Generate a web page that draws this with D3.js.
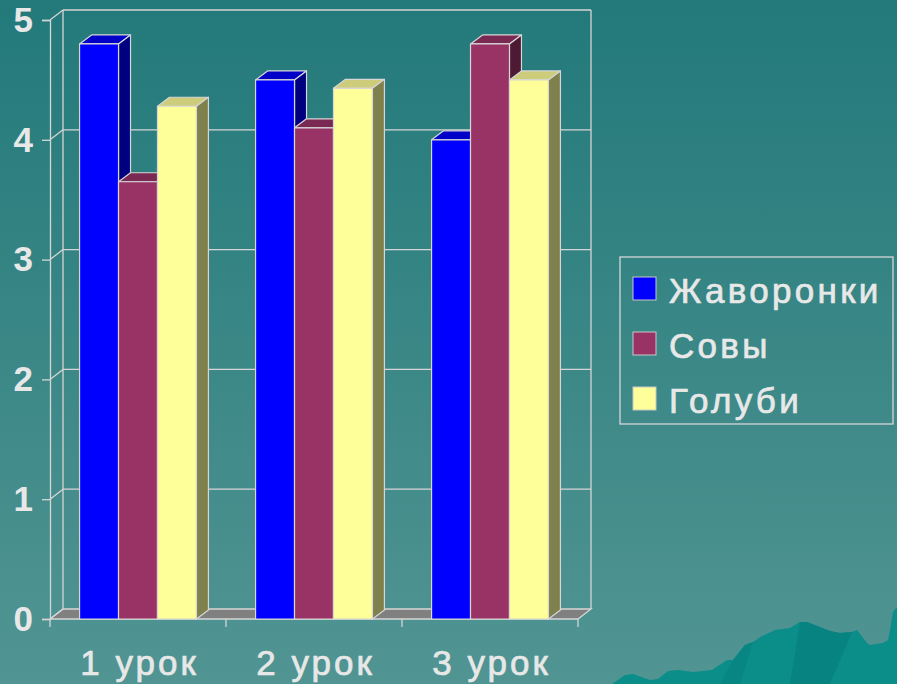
<!DOCTYPE html>
<html>
<head>
<meta charset="utf-8">
<script src="https://cdn.jsdelivr.net/npm/d3@7"></script>
<style>
  html, body { margin: 0; padding: 0; overflow: hidden; }
  svg { display: block; }
  text { font-family: "Liberation Sans", Arial, sans-serif; fill: #e8e8e8; }
</style>
</head>
<body>
<div id="chart"></div>
<script>
// chart data
const lessons = ["1 урок", "2 урок", "3 урок"];
const seriesNames = ["Жаворонки", "Совы", "Голуби"];
const larks = [4.8, 4.5, 4.0];
const owls = [3.65, 4.1, 4.8];
const pigeons = [4.28, 4.43, 4.5];
const yTicks = [0, 1, 2, 3, 4, 5];

// face colours: front, top, side
const palette = [
    {front: "#0000ff", top: "#0000c8", side: "#000080"},
    {front: "#993366", top: "#7a2952", side: "#4d1a33"},
    {front: "#ffff99", top: "#cccc7a", side: "#80804d"}
];

const W = 897, H = 684;
const depthX = 13, depthY = -10;     // wall / floor depth
const barDX = 12, barDY = -9;        // column depth

let svg = d3.select("#chart")
    .append("svg")
    .attr("width", W)
    .attr("height", H);

let defs = svg.append("defs");
let grad = defs.append("linearGradient")
    .attr("id", "bg")
    .attr("x1", 0).attr("y1", 0).attr("x2", 0).attr("y2", 1);
grad.append("stop").attr("offset", "0%").attr("stop-color", "#23797a");
grad.append("stop").attr("offset", "100%").attr("stop-color", "#519593");

svg.append("rect")
    .attr("width", W).attr("height", H)
    .attr("fill", "url(#bg)");

// mountain decoration bottom right
svg.append("polygon")
    .attr("points", "612,684 625,675 633,674 650,680 658,679 668,671 678,670 693,672 712,670 727,660 733,660 745,645 753,642 762,636 775,630 790,628 800,622 807,622 830,631 840,633 852,632 857,630 867,643 870,645 883,643 888,640 890,630 893,612 897,607 897,684")
    .attr("fill", "#0b8d8a");
svg.append("polygon")
    .attr("points", "733,660 745,645 753,642 740,684 720,684")
    .attr("fill", "#088683");
svg.append("polygon")
    .attr("points", "800,622 807,622 830,631 840,633 852,632 830,684 790,684")
    .attr("fill", "#078482");

let x0 = d3.scaleBand()
    .domain(lessons)
    .range([50, 578]);

let x1 = d3.scaleBand()
    .domain(seriesNames)
    .range([x0.bandwidth() * 0.168, x0.bandwidth() * 0.832]);

let yScale = d3.scaleLinear()
    .domain([0, 5])
    .range([619, 20]);

const lineCol = "#d6d6d6";
let left = x0.range()[0], right = x0.range()[1];

// back wall with gridlines
let wall = svg.append("g").attr("stroke", lineCol).attr("stroke-width", 1.3).attr("fill", "none");
yTicks.filter(t => t > 0).forEach(t => {
    wall.append("line")
        .attr("x1", left + depthX).attr("x2", right + depthX)
        .attr("y1", yScale(t) + depthY).attr("y2", yScale(t) + depthY);
});
wall.append("line")
    .attr("x1", left + depthX).attr("x2", left + depthX)
    .attr("y1", yScale(5) + depthY).attr("y2", yScale(0) + depthY);
wall.append("line")
    .attr("x1", right + depthX).attr("x2", right + depthX)
    .attr("y1", yScale(5) + depthY).attr("y2", yScale(0) + depthY);

// floor
svg.append("polygon")
    .attr("points", [
        [left, yScale(0)], [right, yScale(0)],
        [right + depthX, yScale(0) + depthY], [left + depthX, yScale(0) + depthY]
    ].map(p => p.join(",")).join(" "))
    .attr("fill", "#808080")
    .attr("stroke", lineCol)
    .attr("stroke-width", 1.3);

// y axis (front) with ticks and diagonals to the wall
let yAxis = svg.append("g")
    .attr("transform", "translate(" + left + ",0)")
    .call(d3.axisLeft(yScale).tickValues(yTicks).tickSize(8).tickPadding(9).tickFormat(d3.format("d")));
yAxis.select(".domain").attr("stroke", lineCol).attr("stroke-width", 1.3);
yAxis.selectAll(".tick line").attr("stroke", lineCol).attr("stroke-width", 1.3);
yAxis.selectAll(".tick text")
    .attr("fill", "#e8e8e8")
    .style("font-family", "'Liberation Sans', Arial, sans-serif")
    .style("font-size", "35px")
    .style("font-weight", "bold");
yTicks.forEach(t => {
    svg.append("line")
        .attr("x1", left).attr("y1", yScale(t))
        .attr("x2", left + depthX).attr("y2", yScale(t) + depthY)
        .attr("stroke", lineCol).attr("stroke-width", 1.3);
});

// x axis
let xAxis = svg.append("g")
    .attr("transform", "translate(0," + yScale(0) + ")")
    .call(d3.axisBottom(x0).tickSize(0).tickPadding(31));
xAxis.select(".domain").remove();
xAxis.selectAll(".tick text")
    .attr("fill", "#e8e8e8")
    .attr("stroke", "#e8e8e8")
    .attr("stroke-width", 0.7)
    .attr("dx", "1.5")
    .style("font-family", "'Liberation Sans', Arial, sans-serif")
    .style("font-size", "35px")
    .style("letter-spacing", "3px");
svg.append("g").selectAll("line")
    .data(d3.range(lessons.length + 1))
    .join("line")
    .attr("x1", i => left + i * x0.step())
    .attr("x2", i => left + i * x0.step())
    .attr("y1", yScale(0))
    .attr("y2", yScale(0) + 8)
    .attr("stroke", lineCol).attr("stroke-width", 1.3);

// columns
let rows = [];
lessons.forEach((l, i) => {
    [larks, owls, pigeons].forEach((arr, s) => {
        rows.push({lesson: l, series: seriesNames[s], idx: s, value: arr[i]});
    });
});

let bars = svg.append("g")
    .attr("stroke", lineCol)
    .attr("stroke-width", 1.2)
    .attr("stroke-linejoin", "round");

rows.forEach(d => {
    let xa = x0(d.lesson) + x1(d.series);
    let xb = xa + x1.bandwidth();
    let yt = yScale(d.value);
    let yb = yScale(0);
    let c = palette[d.idx];
    let g = bars.append("g");
    g.append("polygon")
        .attr("points", [[xa, yt], [xb, yt], [xb + barDX, yt + barDY], [xa + barDX, yt + barDY]].map(p => p.join(",")).join(" "))
        .attr("fill", c.top);
    g.append("polygon")
        .attr("points", [[xb, yt], [xb + barDX, yt + barDY], [xb + barDX, yb + barDY], [xb, yb]].map(p => p.join(",")).join(" "))
        .attr("fill", c.side);
    g.append("rect")
        .attr("x", xa).attr("y", yt)
        .attr("width", x1.bandwidth())
        .attr("height", yb - yt)
        .attr("fill", c.front);
});

// legend
let legend = svg.append("g");
legend.append("rect")
    .attr("x", 620).attr("y", 257)
    .attr("width", 273).attr("height", 167)
    .attr("fill", "none")
    .attr("stroke", lineCol)
    .attr("stroke-width", 1.3);
let items = legend.selectAll("g.item")
    .data(seriesNames)
    .join("g")
    .attr("class", "item")
    .attr("transform", (d, i) => "translate(633," + (277 + i * 55) + ")");
items.append("rect")
    .attr("width", 23).attr("height", 23)
    .attr("fill", (d, i) => palette[i].front)
    .attr("stroke", "#c8c8c8")
    .attr("stroke-width", 1);
items.append("text")
    .attr("x", 36)
    .attr("y", 26)
    .attr("stroke", "#e8e8e8")
    .attr("stroke-width", 0.7)
    .style("font-size", "35px")
    .style("letter-spacing", "3.3px")
    .text(d => d);
</script>
</body>
</html>
